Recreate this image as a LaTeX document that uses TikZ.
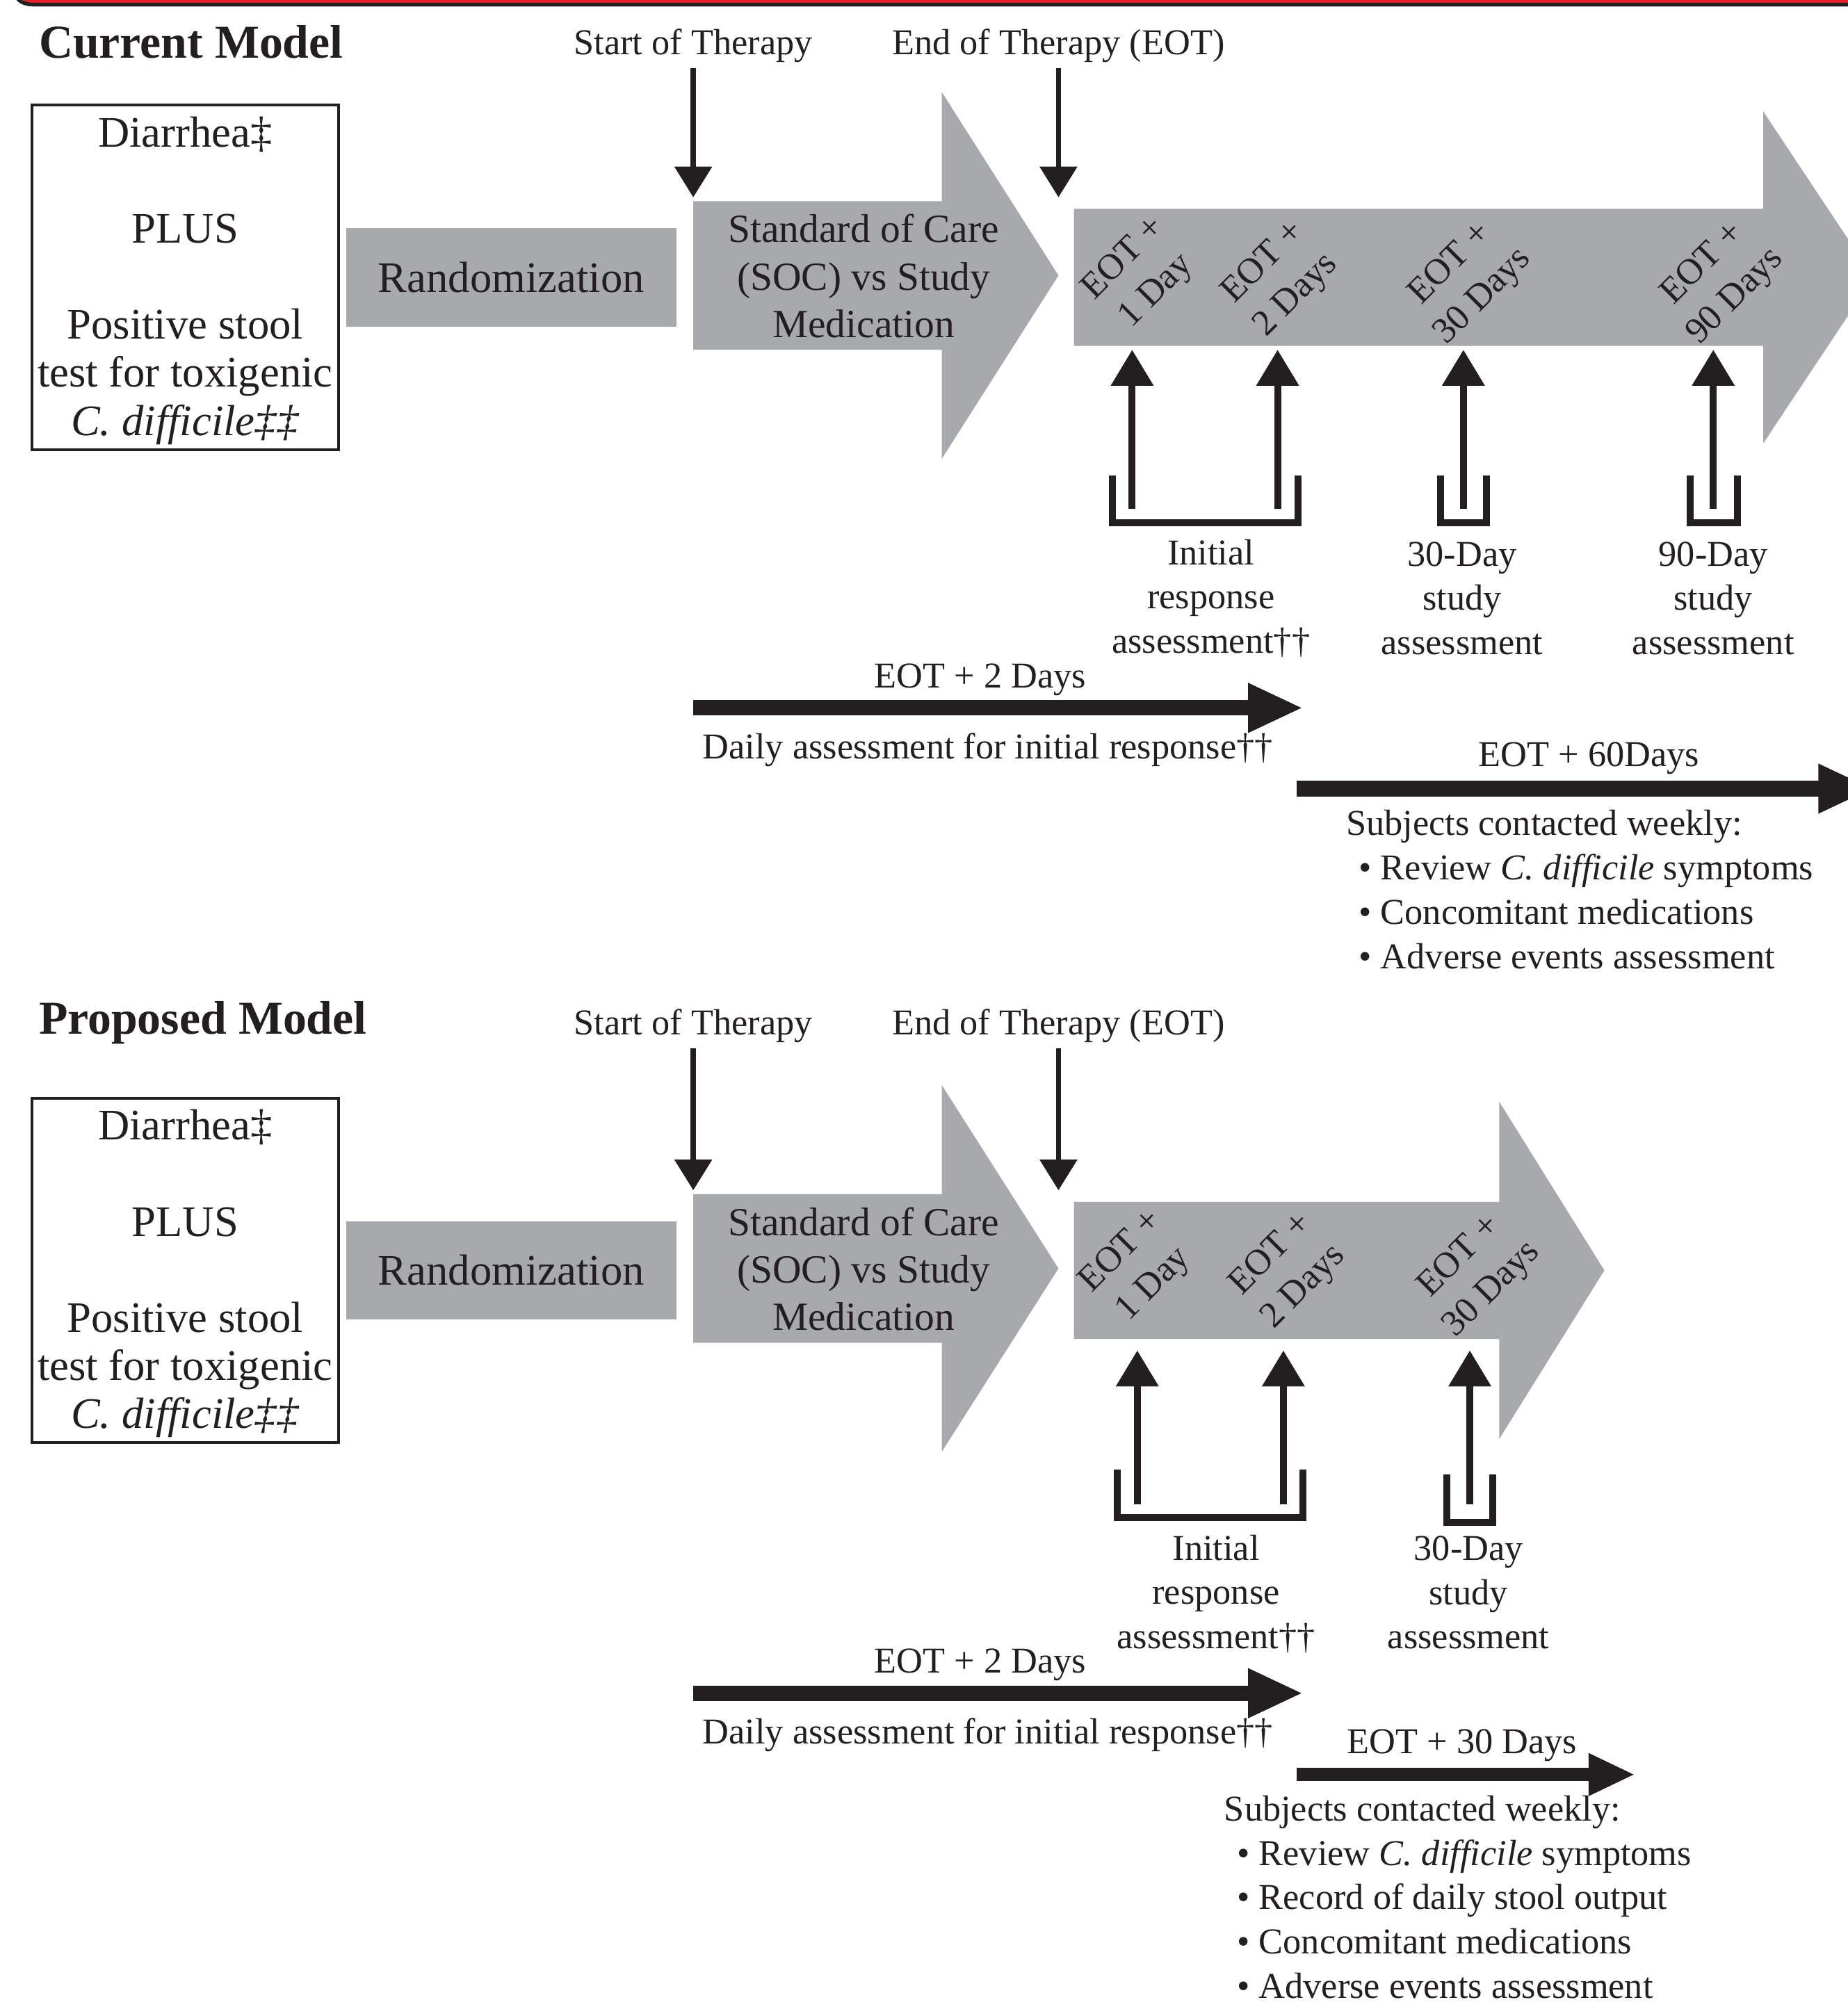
\documentclass[tikz,border=0pt]{standalone}
\usepackage{fontspec}
\setmainfont{Liberation Serif}
\usetikzlibrary{arrows.meta}

\definecolor{boxgray}{RGB}{167,169,172}
\definecolor{ink}{RGB}{35,31,32}
\definecolor{barred}{RGB}{237,28,36}

\tikzset{
  modeltitle/.style={font=\fontsize{18.4}{22}\selectfont\bfseries, text=ink, inner sep=0pt, anchor=west},
  toplabel/.style={font=\fontsize{14.2}{17}\selectfont, text=ink, inner sep=0pt},
  boxframe/.style={draw=ink, line width=1.1pt},
  crittext/.style={inner sep=0pt, align=center, font=\fontsize{17}{18.75}\selectfont, text=ink},
  randbox/.style={fill=boxgray, minimum width=129pt, minimum height=38.5pt, inner sep=0pt, font=\fontsize{17}{20}\selectfont, text=ink},
  soctext/.style={align=center, inner sep=0pt, font=\fontsize{15.6}{18.5}\selectfont, text=ink},
  daytext/.style={align=center, inner sep=0pt, rotate=45, font=\fontsize{14.2}{18}\selectfont, text=ink},
  assess/.style={align=center, inner sep=0pt, font=\fontsize{14.2}{17.25}\selectfont, text=ink},
  weekly/.style={align=left, inner sep=0pt, anchor=north west, font=\fontsize{14.2}{17.3}\selectfont, text=ink},
  downarr/.style={draw=ink, line width=2pt, -{Triangle[width=14.3pt,length=12pt]}},
  uparr/.style={draw=ink, line width=2.7pt, -{Triangle[width=16pt,length=14pt]}},
  bracket/.style={draw=ink, line width=2.7pt},
  timeline/.style={draw=ink, line width=6pt, -{Triangle[width=17.8pt,length=21.5pt]}},
  shortline/.style={draw=ink, line width=5.2pt, -{Triangle[width=15.4pt,length=18.2pt]}},
}

\begin{document}
\begin{tikzpicture}[x=0.5pt, y=-0.5pt]
\useasboundingbox (0,0) rectangle (1442,1568);

\fill[barred] (18,-6) rectangle (1442,2.2);
\draw[ink, line width=1.45pt] (12,-6) to[out=-90,in=180] (26,3.6) -- (1442,3.6);

% current model
\node[modeltitle] (curtitle) at (30,33) {Current Model};
\node[toplabel] (start1) at (541,35.5) {Start of Therapy};
\node[toplabel] (end1) at (826,35.5) {End of Therapy (EOT)};

\draw[boxframe] (25,82) rectangle (264,351);
\node[crittext] (crit1) at (144.5,219) {Diarrhea‡\\[18.75pt]PLUS\\[18.75pt]Positive stool\\test for toxigenic\\\textit{C. difficile‡‡}};
\node[randbox] (rand1) at (399,216.5) {Randomization};

\fill[boxgray] (541,157) -- (735,157) -- (735,72) -- (826,215) -- (735,358) -- (735,273) -- (541,273) -- cycle;
\node[soctext] (soc1) at (674,215.5) {Standard of Care\\(SOC) vs Study\\Medication};
\fill[boxgray] (838,163) -- (1376,163) -- (1376,87) -- (1462,216.5) -- (1376,346) -- (1376,270) -- (838,270) -- cycle;

\coordinate (s1tip) at (541,154);
\coordinate (e1tip) at (826,154);
\draw[downarr] ([yshift=-2pt]start1.south) -- (s1tip);
\draw[downarr] ([yshift=-2pt]end1.south) -- (e1tip);

\node[daytext] (d11) at (890,215) {EOT +\\1 Day};
\node[daytext] (d12) at (999,218) {EOT +\\2 Days};
\node[daytext] (d13) at (1145,219) {EOT +\\30 Days};
\node[daytext] (d14) at (1342,219) {EOT +\\90 Days};

\coordinate (u11) at (883.5,397); \coordinate (t11) at (883.5,273);
\coordinate (u12) at (997,397);   \coordinate (t12) at (997,273);
\coordinate (u13) at (1142,397);  \coordinate (t13) at (1142,273);
\coordinate (u14) at (1337,397);  \coordinate (t14) at (1337,273);
\draw[uparr] (u11) -- (t11);
\draw[uparr] (u12) -- (t12);
\draw[uparr] (u13) -- (t13);
\draw[uparr] (u14) -- (t14);

\draw[bracket] (868,371) -- (868,408) -- (1013,408) -- (1013,371);
\draw[bracket] (1124,371) -- (1124,408) -- (1160,408) -- (1160,371);
\draw[bracket] (1319,371) -- (1319,408) -- (1356,408) -- (1356,371);

\node[assess] (init1) at (945,467) {Initial\\response\\assessment††};
\node[assess] (thirty1) at (1141,467) {30-Day\\study\\assessment};
\node[assess] (ninety1) at (1337,467) {90-Day\\study\\assessment};

\node[toplabel] (plus21) at (765,530.5) {EOT + 2 Days};
\coordinate (tl1a) at (541,552.5); \coordinate (tl1b) at (1017,552.5);
\draw[timeline] (tl1a) -- (tl1b);
\node[toplabel, anchor=west] (daily1) at (548,585) {Daily assessment for initial response††};

\node[toplabel] (plus601) at (1240,592) {EOT + 60Days};
\coordinate (tl2a) at (1012,615.5); \coordinate (tl2b) at (1462,615.5);
\draw[timeline] (tl2a) -- (tl2b);
\node[weekly] (week1) at (1050,632) {Subjects contacted weekly:\\\hspace*{5pt}\textbullet\ Review \textit{C. difficile} symptoms\\\hspace*{5pt}\textbullet\ Concomitant medications\\\hspace*{5pt}\textbullet\ Adverse events assessment};

% proposed model
\node[modeltitle] (proptitle) at (30,798) {Proposed Model};
\node[toplabel] (start2) at (541,800.5) {Start of Therapy};
\node[toplabel] (end2) at (826,800.5) {End of Therapy (EOT)};

\draw[boxframe] (25,857) rectangle (264,1126);
\node[crittext] (crit2) at (144.5,994) {Diarrhea‡\\[18.75pt]PLUS\\[18.75pt]Positive stool\\test for toxigenic\\\textit{C. difficile‡‡}};
\node[randbox] (rand2) at (399,991.5) {Randomization};

\fill[boxgray] (541,932) -- (735,932) -- (735,847) -- (826,990) -- (735,1133) -- (735,1048) -- (541,1048) -- cycle;
\node[soctext] (soc2) at (674,990.5) {Standard of Care\\(SOC) vs Study\\Medication};
\fill[boxgray] (838,938) -- (1170,938) -- (1170,860) -- (1252,991.5) -- (1170,1123) -- (1170,1045) -- (838,1045) -- cycle;

\coordinate (s2tip) at (541,929);
\coordinate (e2tip) at (826,929);
\draw[downarr] ([yshift=-2pt]start2.south) -- (s2tip);
\draw[downarr] ([yshift=-2pt]end2.south) -- (e2tip);

\node[daytext] (d21) at (888,990) {EOT +\\1 Day};
\node[daytext] (d22) at (1005,992) {EOT +\\2 Days};
\node[daytext] (d23) at (1152,994) {EOT +\\30 Days};

\coordinate (u21) at (887.5,1174); \coordinate (t21) at (887.5,1054);
\coordinate (u22) at (1001.5,1174); \coordinate (t22) at (1001.5,1054);
\coordinate (u23) at (1147,1174);  \coordinate (t23) at (1147,1054);
\draw[uparr] (u21) -- (t21);
\draw[uparr] (u22) -- (t22);
\draw[uparr] (u23) -- (t23);

\draw[bracket] (872,1147) -- (872,1184.5) -- (1017,1184.5) -- (1017,1147);
\draw[bracket] (1129,1151) -- (1129,1188) -- (1165,1188) -- (1165,1151);

\node[assess] (init2) at (949,1244) {Initial\\response\\assessment††};
\node[assess] (thirty2) at (1146,1243) {30-Day\\study\\assessment};

\node[toplabel] (plus22) at (765,1299.5) {EOT + 2 Days};
\coordinate (tl3a) at (541,1321.5); \coordinate (tl3b) at (1017,1321.5);
\draw[timeline] (tl3a) -- (tl3b);
\node[toplabel, anchor=west] (daily2) at (548,1354) {Daily assessment for initial response††};

\node[toplabel] (plus302) at (1141,1362) {EOT + 30 Days};
\coordinate (tl4a) at (1012,1385); \coordinate (tl4b) at (1276,1385);
\draw[shortline] (tl4a) -- (tl4b);
\node[weekly] (week2) at (955,1401) {Subjects contacted weekly:\\\hspace*{5pt}\textbullet\ Review \textit{C. difficile} symptoms\\\hspace*{5pt}\textbullet\ Record of daily stool output\\\hspace*{5pt}\textbullet\ Concomitant medications\\\hspace*{5pt}\textbullet\ Adverse events assessment};
\end{tikzpicture}
\end{document}
